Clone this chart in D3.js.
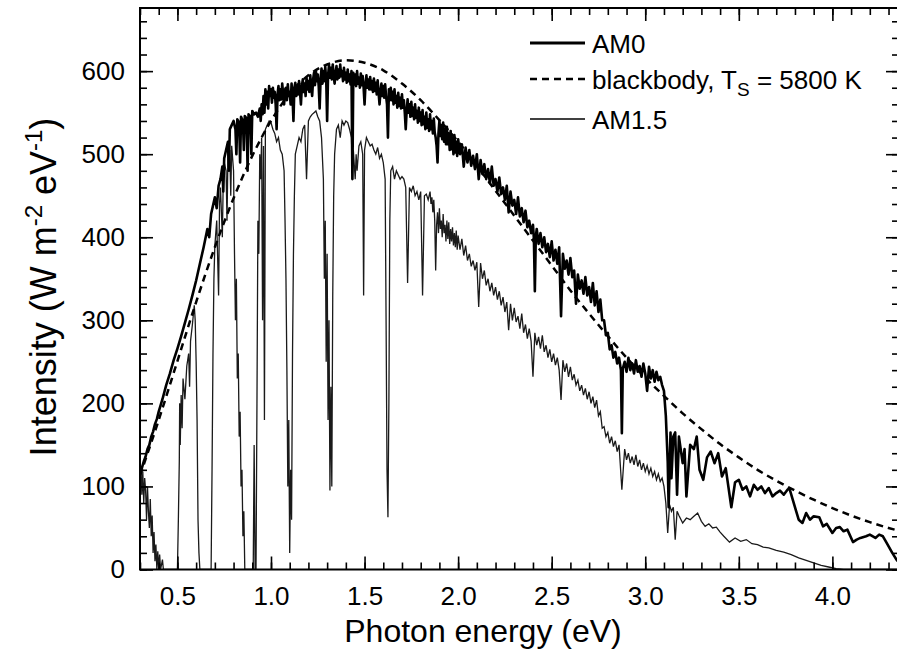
<!DOCTYPE html>
<html lang="en">
<head>
<meta charset="utf-8">
<title>Solar spectrum</title>
<script src="https://d3js.org/d3.v7.min.js"></script>
<style>
body{
  margin:0;
  background:#fff;
}
svg text{
  font-family:"Liberation Sans", Arial, sans-serif;
  fill:#000;
}
.axis path{
  stroke:none;
}
.axis line{
  stroke:#000;
  stroke-width:1.6;
}
.axis text{
  font-size:26px;
}
</style>
</head>
<body>
<div id="chart"></div>
<script>
// tick labels
const xTicks = [0.5, 1.0, 1.5, 2.0, 2.5, 3.0, 3.5, 4.0];
const yTicks = [0, 100, 200, 300, 400, 500, 600];
const legendNames = ["AM0", "blackbody", "AM1.5"];

// [photon energy (eV), intensity (W m-2 eV-1)]
const am0 = [
  [0.30,115],[0.31,122],[0.32,130],[0.33,136],[0.34,145],[0.35,150],[0.36,160],[0.37,166],[0.38,175],[0.39,181],
  [0.40,190],[0.42,205],[0.44,222],[0.46,236],[0.48,252],[0.50,266],[0.52,281],[0.54,297],[0.56,313],[0.58,330],
  [0.60,348],[0.62,368],[0.64,388],[0.66,410],[0.67,400],[0.68,428],[0.70,448],[0.71,435],[0.72,462],[0.73,470],
  [0.74,485],[0.745,455],[0.75,495],[0.76,505],[0.77,515],[0.775,480],[0.78,530],[0.79,535],[0.80,540],[0.81,530],
  [0.815,500],[0.82,542],[0.83,538],[0.835,490],[0.84,545],[0.85,540],[0.855,505],[0.86,546],[0.87,543],[0.875,480],
  [0.88,548],[0.89,545],[0.895,500],[0.90,552],[0.91,548],[0.92,550],[0.93,545],
  [0.94,555],[0.945,540],[0.95,560],[0.955,548],[0.96,570],[0.965,550],[0.97,578],[0.975,560],[0.98,575],[0.985,555],[0.99,582],[0.995,570],
  [1.00,578],[1.005,562],[1.01,580],[1.015,568],[1.02,575],[1.025,560],[1.03,530],[1.035,572],[1.04,582],[1.045,565],
  [1.05,578],[1.055,566],[1.06,585],[1.065,572],[1.07,560],[1.075,578],[1.08,580],[1.085,565],[1.09,584],[1.095,570],
  [1.10,575],[1.105,560],[1.11,585],[1.115,570],[1.12,540],[1.125,580],[1.13,586],[1.135,570],[1.14,582],[1.145,572],
  [1.15,588],[1.155,575],[1.16,560],[1.165,582],[1.17,590],[1.175,575],[1.18,585],[1.185,570],[1.19,592],[1.195,578],
  [1.20,588],[1.205,575],[1.21,595],[1.215,580],[1.22,570],[1.225,590],[1.23,598],[1.235,583],[1.24,600],[1.245,588],
  [1.25,596],[1.255,582],[1.26,555],[1.265,590],[1.27,603],[1.275,585],[1.28,600],[1.285,588],[1.29,605],[1.295,590],
  [1.30,540],[1.305,595],[1.31,607],[1.315,592],[1.32,604],[1.325,590],[1.33,608],[1.335,595],[1.34,585],[1.345,598],
  [1.35,606],[1.355,590],[1.36,602],[1.365,592],[1.37,608],[1.375,594],[1.38,600],[1.385,588],[1.39,604],[1.395,590],
  [1.40,598],[1.405,586],[1.41,602],[1.415,588],[1.42,596],[1.425,584],[1.43,600],[1.435,470],[1.44,598],[1.445,584],
  [1.45,596],[1.455,582],[1.46,600],[1.465,585],[1.47,592],[1.475,580],[1.48,597],[1.485,583],[1.49,594],[1.495,580],
  [1.50,560],[1.505,584],[1.51,595],[1.515,580],[1.52,590],[1.525,578],[1.53,593],[1.535,578],[1.54,588],[1.545,575],
  [1.55,591],[1.555,576],[1.56,586],[1.565,572],[1.57,589],[1.575,574],[1.58,560],[1.585,575],[1.59,585],[1.595,570],
  [1.60,582],[1.605,568],[1.61,584],[1.615,570],[1.62,560],[1.625,520],[1.63,578],[1.635,565],[1.64,580],[1.645,565],
  [1.65,575],[1.655,560],[1.66,578],[1.665,562],[1.67,570],[1.675,556],[1.68,574],[1.685,558],[1.69,568],[1.695,555],
  [1.70,572],[1.705,556],[1.71,565],[1.715,550],[1.72,530],[1.725,552],[1.73,566],[1.735,550],[1.74,560],[1.745,545],
  [1.75,563],[1.755,546],[1.76,556],[1.765,542],[1.77,560],[1.775,544],[1.78,552],[1.785,538],[1.79,556],[1.795,540],
  [1.80,550],[1.805,535],[1.81,553],[1.815,536],[1.82,545],[1.825,530],[1.83,550],[1.835,532],[1.84,542],[1.845,528],
  [1.85,548],[1.855,530],[1.86,540],[1.865,525],[1.87,543],[1.875,526],[1.88,520],[1.885,510],[1.89,490],[1.895,525],
  [1.90,540],[1.905,522],[1.91,535],[1.915,518],[1.92,538],[1.925,515],[1.93,530],[1.935,512],[1.94,533],[1.945,512],
  [1.95,525],[1.955,505],[1.96,528],[1.965,506],[1.97,520],[1.975,500],[1.98,523],[1.985,502],[1.99,515],[1.995,498],
  [2.00,518],[2.01,500],[2.02,512],[2.03,485],[2.04,508],[2.05,490],[2.06,505],[2.07,486],[2.08,498],[2.09,482],
  [2.10,500],[2.11,470],[2.12,493],[2.13,476],[2.14,488],[2.15,470],[2.16,482],[2.17,465],[2.18,485],[2.19,462],
  [2.20,470],[2.21,455],[2.22,472],[2.23,452],[2.24,460],[2.25,445],[2.26,462],[2.27,430],[2.28,455],[2.29,438],
  [2.30,445],[2.31,428],[2.32,448],[2.33,425],[2.34,435],[2.35,418],[2.36,432],[2.37,412],[2.38,420],[2.39,405],
  [2.40,415],[2.405,398],[2.41,335],[2.415,400],[2.42,410],[2.43,392],[2.44,405],[2.45,388],[2.46,400],[2.47,382],
  [2.48,392],[2.49,376],[2.50,395],[2.51,372],[2.52,385],[2.53,368],[2.54,388],[2.55,305],[2.56,380],[2.57,362],
  [2.58,372],[2.59,355],[2.60,375],[2.61,352],[2.62,360],[2.63,320],[2.64,355],[2.65,338],[2.66,348],[2.67,332],
  [2.68,352],[2.69,330],[2.70,340],[2.71,322],[2.72,345],[2.73,318],[2.74,335],[2.75,310],[2.76,325],[2.77,300],
  [2.78,300],[2.79,282],[2.80,285],[2.81,265],[2.82,270],[2.83,255],[2.84,262],[2.85,248],[2.86,255],[2.87,240],
  [2.875,164],[2.88,242],[2.89,250],[2.90,238],[2.91,255],[2.92,240],[2.93,248],[2.94,236],[2.95,252],[2.96,238],
  [2.97,245],[2.98,232],[2.99,248],[3.00,236],[3.01,215],[3.02,244],[3.03,230],[3.04,240],[3.05,226],[3.06,238],
  [3.07,228],[3.08,232],[3.09,222],[3.10,215],[3.11,185],[3.12,130],
  [3.125,75],[3.13,120],[3.135,165],[3.14,110],[3.15,160],[3.16,165],[3.17,90],[3.18,160],[3.20,128],[3.21,145],
  [3.22,88],[3.24,150],[3.26,145],[3.275,160],[3.29,120],[3.31,108],[3.33,135],[3.35,142],[3.37,128],[3.39,140],
  [3.41,112],[3.43,122],[3.46,75],[3.48,105],[3.50,108],[3.52,96],[3.54,100],[3.56,88],[3.58,102],[3.60,96],
  [3.62,100],[3.64,92],[3.66,98],[3.68,88],[3.70,92],[3.72,95],[3.74,90],[3.76,96],[3.77,98],[3.80,75],
  [3.82,60],[3.84,56],[3.86,68],[3.88,60],[3.90,64],[3.93,63],[3.95,52],[3.97,55],[4.00,44],[4.02,50],
  [4.04,51],[4.06,46],[4.08,48],[4.11,33],[4.13,36],[4.15,38],[4.18,40],[4.20,42],[4.23,38],[4.25,42],
  [4.27,40],[4.29,32],[4.32,20],[4.345,11],[4.36,8]
];

const blackbody = [
  [0.3,113],[0.4,180],[0.5,251],[0.6,322],[0.7,388],[0.8,447],[0.9,498],[1.0,540],[1.1,573],[1.2,595],
  [1.3,608],[1.4,613],[1.5,610],[1.6,601],[1.7,585],[1.8,565],[1.9,541],[2.0,515],[2.1,486],[2.2,456],
  [2.3,426],[2.4,396],[2.5,366],[2.6,336],[2.7,308],[2.8,281],[2.9,255],[3.0,231],[3.1,209],[3.2,188],
  [3.3,169],[3.4,151],[3.5,135],[3.6,120],[3.7,107],[3.8,95],[3.9,84],[4.0,74],[4.1,65],[4.2,57],
  [4.3,50],[4.4,44]
];

const am15 = [
  [0.30,105],[0.305,125],[0.31,90],[0.315,118],[0.32,80],[0.325,110],[0.33,95],[0.335,60],[0.34,100],[0.345,70],
  [0.35,50],[0.355,85],[0.36,40],[0.365,65],[0.37,20],[0.375,45],[0.38,10],[0.385,30],[0.39,0],[0.395,22],
  [0.40,0],[0.405,18],[0.41,0],[0.42,12],[0.425,0],[0.50,0],[0.505,60],[0.51,130],[0.512,200],[0.515,150],
  [0.52,210],[0.525,170],[0.53,230],[0.54,205],[0.55,245],[0.56,260],[0.565,220],[0.57,275],[0.58,295],[0.59,318],
  [0.595,300],[0.60,250],[0.605,180],[0.61,60],[0.615,20],[0.62,0],[0.68,0],[0.685,120],[0.69,260],[0.695,350],
  [0.70,390],[0.71,420],[0.72,330],[0.725,440],[0.73,460],[0.74,400],[0.745,470],[0.75,490],[0.76,480],[0.765,420],
  [0.77,500],[0.78,505],[0.785,450],[0.79,510],[0.80,480],[0.805,380],[0.81,300],[0.815,350],[0.82,230],[0.825,260],
  [0.83,160],[0.835,190],[0.84,100],[0.845,120],[0.85,40],[0.855,70],[0.86,0],[0.905,0],[0.91,150],[0.915,0],
  [0.92,0],[0.925,200],[0.93,420],[0.935,380],[0.94,500],[0.945,470],[0.95,520],[0.955,300],[0.96,510],[0.965,180],
  [0.97,530],[0.98,535],[0.99,540],[1.00,538],[1.01,530],[1.02,525],[1.03,515],[1.04,520],[1.05,505],[1.06,500],
  [1.07,480],[1.075,420],[1.08,350],[1.085,240],[1.09,100],[1.095,180],[1.10,20],[1.105,120],[1.11,60],[1.115,260],
  [1.12,380],[1.125,450],[1.13,500],[1.14,510],[1.15,520],[1.16,515],[1.17,530],[1.18,535],[1.19,470],[1.20,540],
  [1.21,545],[1.22,548],[1.23,550],[1.24,552],[1.25,545],[1.26,540],[1.27,520],[1.28,470],[1.285,350],[1.29,420],
  [1.295,250],[1.30,380],[1.305,180],[1.31,300],[1.315,95],[1.32,220],[1.325,100],[1.33,330],[1.335,450],[1.34,500],
  [1.35,530],[1.36,535],[1.37,520],[1.38,540],[1.39,535],[1.40,540],[1.41,538],[1.42,530],[1.43,520],[1.435,470],
  [1.44,505],[1.45,470],[1.455,500],[1.46,480],[1.47,510],[1.48,515],[1.49,500],[1.495,330],[1.50,505],[1.51,520],
  [1.52,515],[1.53,510],[1.54,512],[1.55,505],[1.56,500],[1.57,508],[1.58,495],[1.59,500],[1.60,490],[1.61,470],
  [1.615,300],[1.62,120],[1.625,63],[1.63,200],[1.635,420],[1.64,480],[1.65,485],[1.66,470],[1.67,480],[1.68,475],
  [1.69,470],[1.70,473],[1.71,470],[1.72,460],[1.73,345],[1.74,460],[1.75,455],[1.76,462],[1.77,450],[1.78,455],
  [1.79,445],[1.80,455],[1.81,330],[1.82,450],[1.83,452],[1.84,445],
  [1.85,455],[1.855,440],[1.86,448],[1.865,430],[1.87,445],[1.875,420],[1.88,360],[1.885,415],[1.89,430],[1.895,405],
  [1.90,435],[1.905,410],[1.91,420],[1.915,400],[1.92,428],[1.925,405],[1.93,415],[1.935,395],[1.94,420],[1.945,398],
  [1.95,418],[1.955,392],[1.96,410],[1.965,395],[1.97,412],[1.975,390],[1.98,405],[1.985,388],[1.99,408],[1.995,385],
  [2.00,402],[2.01,385],[2.02,398],[2.03,378],[2.04,390],[2.05,372],[2.06,380],[2.07,365],[2.08,372],[2.09,360],
  [2.10,370],[2.11,316],[2.12,369],[2.13,350],[2.14,360],[2.15,342],[2.16,350],[2.17,335],[2.18,345],[2.19,330],
  [2.20,340],[2.21,325],[2.22,335],[2.23,318],[2.24,328],[2.25,310],[2.26,322],[2.27,288],[2.28,320],[2.29,300],
  [2.30,315],[2.31,298],[2.32,305],[2.33,290],[2.34,308],[2.35,285],[2.36,295],[2.37,278],[2.38,290],[2.39,275],
  [2.40,232],[2.41,285],[2.42,270],[2.43,280],[2.44,266],[2.45,282],[2.46,262],[2.47,270],[2.48,255],[2.49,265],
  [2.50,250],[2.51,260],[2.52,246],[2.53,255],[2.54,240],[2.55,204],[2.56,252],[2.57,238],[2.58,248],[2.59,232],
  [2.60,244],[2.61,228],[2.62,235],[2.63,222],[2.64,228],[2.65,215],[2.66,222],[2.67,210],[2.68,218],[2.69,205],
  [2.70,214],[2.71,200],[2.72,208],[2.73,195],[2.74,204],[2.75,185],[2.76,190],[2.77,170],[2.78,172],[2.79,160],
  [2.80,165],[2.81,152],[2.82,160],[2.83,148],[2.84,155],[2.85,142],[2.86,150],[2.875,96],[2.89,145],[2.90,132],
  [2.91,140],[2.92,128],[2.93,136],[2.94,126],[2.95,138],[2.96,124],[2.97,132],[2.98,120],[2.99,128],[3.00,118],
  [3.01,125],[3.02,115],[3.03,122],[3.04,112],[3.05,118],[3.06,108],[3.07,115],[3.08,106],[3.09,110],
  [3.10,100],[3.11,80],[3.12,44],[3.13,78],[3.14,70],[3.15,75],[3.16,36],[3.17,70],[3.18,65],[3.20,56],
  [3.22,62],[3.24,60],[3.26,64],[3.28,68],[3.30,58],[3.32,52],[3.34,55],[3.36,50],[3.38,51],[3.40,45],
  [3.42,40],[3.45,33],[3.48,38],[3.51,34],[3.54,36],[3.57,31],[3.60,30],[3.63,27],[3.66,26],[3.70,23],
  [3.74,21],[3.78,18],[3.82,14],[3.86,11],[3.90,8],[3.94,5],[3.98,3],[4.02,1],[4.06,0],[4.36,0]
];

var margin = {top:8, left:140};
var w = 759, h = 561.5;

var svg = d3.select("#chart")
  .append("svg")
  .attr("width", 897)
  .attr("height", 651);

var chart = svg.append("g")
  .attr("transform", "translate(" + margin.left + "," + margin.top + ")");

var x = d3.scaleLinear().domain([0.3, 4.356]).range([0, w]);
var y = d3.scaleLinear().domain([0, 676]).range([h, 0]);

var xMinor = d3.range(3, 44).map(function(d){ return d / 10; });
var yMinor = d3.range(0, 34).map(function(d){ return d * 20; });

chart.append("clipPath").attr("id", "clip")
  .append("rect").attr("width", w).attr("height", h);

// data lines
var line = d3.line()
  .x(function(d){ return x(d[0]); })
  .y(function(d){ return y(d[1]); });

var plot = chart.append("g").attr("clip-path", "url(#clip)");

plot.append("path").datum(am15)
  .attr("d", line)
  .attr("fill", "none").attr("stroke", "#1a1a1a").attr("stroke-width", 1.3);

plot.append("path").datum(am0)
  .attr("d", line)
  .attr("fill", "none").attr("stroke", "#000").attr("stroke-width", 2.6)
  .attr("stroke-linejoin", "round");

plot.append("path").datum(blackbody)
  .attr("d", line.curve(d3.curveMonotoneX))
  .attr("fill", "none").attr("stroke", "#000").attr("stroke-width", 2.5)
  .attr("stroke-dasharray", "7,5");

// axes, ticks point inward
chart.append("g").attr("class", "axis")
  .attr("transform", "translate(0," + h + ")")
  .call(d3.axisBottom(x).tickValues(xMinor).tickSize(-7).tickFormat(""));
chart.append("g").attr("class", "axis")
  .attr("transform", "translate(0," + h + ")")
  .call(d3.axisBottom(x).tickValues(xTicks).tickSize(-13).tickPadding(17).tickFormat(d3.format(".1f")));
chart.append("g").attr("class", "axis")
  .call(d3.axisTop(x).tickValues(xMinor).tickSize(-7).tickFormat(""));
chart.append("g").attr("class", "axis")
  .call(d3.axisTop(x).tickValues(xTicks).tickSize(-13).tickFormat(""));

chart.append("g").attr("class", "axis")
  .call(d3.axisLeft(y).tickValues(yMinor).tickSize(-7).tickFormat(""));
chart.append("g").attr("class", "axis")
  .call(d3.axisLeft(y).tickValues(yTicks).tickSize(-13).tickPadding(15));
chart.append("g").attr("class", "axis")
  .attr("transform", "translate(" + w + ",0)")
  .call(d3.axisRight(y).tickValues(yMinor).tickSize(-7).tickFormat(""));
chart.append("g").attr("class", "axis")
  .attr("transform", "translate(" + w + ",0)")
  .call(d3.axisRight(y).tickValues(yTicks).tickSize(-13).tickFormat(""));

// frame
chart.append("rect")
  .attr("width", w).attr("height", h)
  .attr("fill", "none").attr("stroke", "#000").attr("stroke-width", 2);

// axis titles
svg.append("text")
  .attr("x", 483).attr("y", 642)
  .attr("text-anchor", "middle")
  .style("font-size", "32px")
  .text("Photon energy (eV)");

var yt = svg.append("text")
  .attr("transform", "translate(56,287) rotate(-90)")
  .attr("text-anchor", "middle")
  .style("font-size", "36px");
yt.append("tspan").text("Intensity (W m");
yt.append("tspan").attr("dy", -14).style("font-size", "24px").text("-2");
yt.append("tspan").attr("dy", 14).text(" eV");
yt.append("tspan").attr("dy", -14).style("font-size", "24px").text("-1");
yt.append("tspan").attr("dy", 14).text(")");

// legend
var legend = svg.append("g");
var rows = [
  {name: legendNames[0], y: 43, width: 3, dash: null},
  {name: legendNames[1], y: 79, width: 2.5, dash: "7,5"},
  {name: legendNames[2], y: 119, width: 1.3, dash: null}
];
rows.forEach(function(r){
  legend.append("line")
    .attr("x1", 530).attr("x2", 585).attr("y1", r.y).attr("y2", r.y)
    .attr("stroke", "#000").attr("stroke-width", r.width)
    .attr("stroke-dasharray", r.dash);
  var t = legend.append("text")
    .attr("x", 592).attr("y", r.y + 10)
    .style("font-size", "26px");
  if (r.name === "blackbody") {
    t.append("tspan").text("blackbody, T");
    t.append("tspan").attr("dy", 7).style("font-size", "19px").text("S");
    t.append("tspan").attr("dy", -7).text(" = 5800 K");
  } else {
    t.text(r.name);
  }
});
</script>
</body>
</html>
